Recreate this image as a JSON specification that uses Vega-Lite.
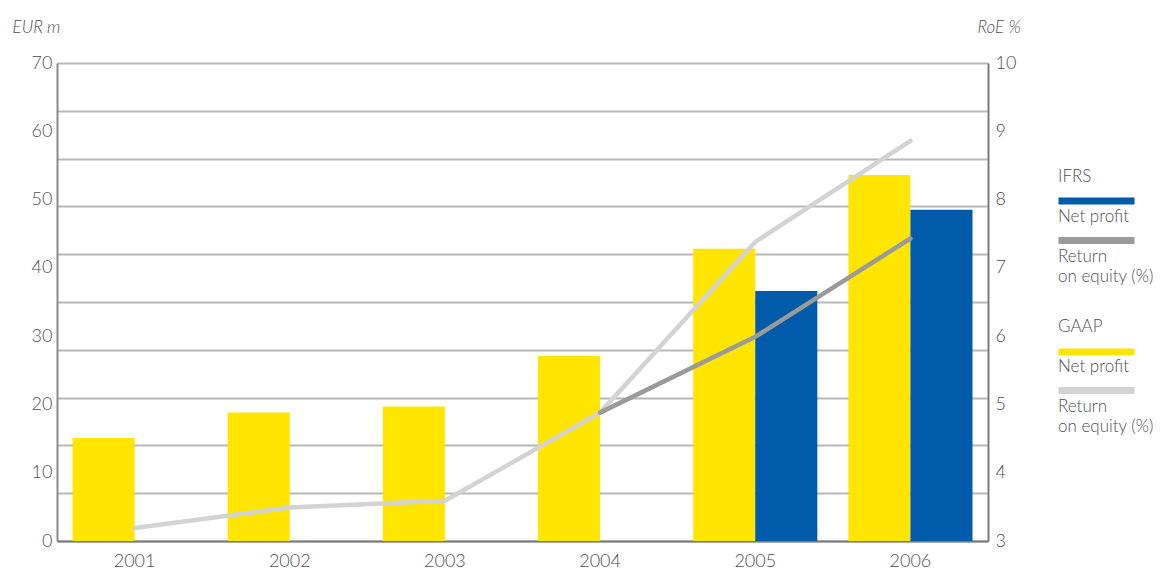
{
  "$schema": "https://vega.github.io/schema/vega-lite/v6.json",
  "width": 931,
  "height": 478,
  "autosize": {"type": "none"},
  "padding": {"left": 57, "top": 63, "right": 172, "bottom": 28},
  "config": {
    "view": {"stroke": null},
    "font": "Lato",
    "axis": {"labelFont": "Lato", "labelFontWeight": 300, "labelColor": "#505050", "labelFontSize": 18, "titleFont": "Lato", "titleFontWeight": 300, "titleColor": "#505050"}
  },
  "datasets": {
    "profit": [
      {"year": "2001", "series": "GAAP Net profit", "value": 15.1},
      {"year": "2002", "series": "GAAP Net profit", "value": 18.8},
      {"year": "2003", "series": "GAAP Net profit", "value": 19.7},
      {"year": "2004", "series": "GAAP Net profit", "value": 27.1},
      {"year": "2005", "series": "GAAP Net profit", "value": 42.8},
      {"year": "2005", "series": "IFRS Net profit", "value": 36.6},
      {"year": "2006", "series": "GAAP Net profit", "value": 53.6},
      {"year": "2006", "series": "IFRS Net profit", "value": 48.5}
    ],
    "roe": [
      {"year": "2001", "series": "GAAP RoE", "value": 3.19},
      {"year": "2002", "series": "GAAP RoE", "value": 3.49},
      {"year": "2003", "series": "GAAP RoE", "value": 3.59},
      {"year": "2004", "series": "GAAP RoE", "value": 4.88},
      {"year": "2005", "series": "GAAP RoE", "value": 7.38},
      {"year": "2006", "series": "GAAP RoE", "value": 8.86},
      {"year": "2004", "series": "IFRS RoE", "value": 4.88},
      {"year": "2005", "series": "IFRS RoE", "value": 5.99},
      {"year": "2006", "series": "IFRS RoE", "value": 7.43}
    ]
  },
  "layer": [
    {
      "data": {"name": "profit"},
      "mark": {"type": "point", "opacity": 0},
      "encoding": {
        "y": {
          "field": "value", "type": "quantitative",
          "scale": {"domain": [0, 70], "nice": false},
          "axis": {"orient": "left", "values": [0, 7, 14, 21, 28, 35, 42, 49, 56, 63, 70], "grid": true, "gridColor": "#b8b8b8", "gridWidth": 2, "labels": false, "ticks": false, "domain": false, "title": null}
        }
      }
    },
    {
      "data": {"name": "profit"},
      "mark": {"type": "bar"},
      "encoding": {
        "x": {
          "field": "year", "type": "ordinal",
          "scale": {"paddingInner": 0.2, "paddingOuter": 0.1},
          "axis": {"orient": "bottom", "title": null, "labelAngle": 0, "ticks": false, "domain": true, "domainColor": "#7a7a7a", "domainWidth": 2, "labelPadding": 11, "grid": false}
        },
        "xOffset": {"field": "series", "type": "nominal", "scale": {"domain": ["GAAP Net profit", "IFRS Net profit"], "paddingInner": 0, "paddingOuter": 0}},
        "y": {
          "field": "value", "type": "quantitative",
          "scale": {"domain": [0, 70], "nice": false},
          "axis": {"orient": "left", "values": [0, 10, 20, 30, 40, 50, 60, 70], "grid": false, "ticks": false, "domain": true, "domainColor": "#8a8a8a", "domainWidth": 2, "labelPadding": 5, "title": "EUR m", "titleFontStyle": "italic", "titleFontSize": 17, "titleAngle": 0, "titleAlign": "left", "titleBaseline": "middle", "titleX": -45, "titleY": -36}
        },
        "color": {
          "field": "series", "type": "nominal",
          "scale": {"domain": ["IFRS Net profit", "IFRS RoE", "GAAP Net profit", "GAAP RoE"], "range": ["#005BAA", "#9a9a9a", "#FFE500", "#D3D3D3"]},
          "legend": {
            "orient": "none", "legendX": 984, "legendY": 105, "title": null,
            "symbolSize": 4, "labelOffset": 0, "symbolOffset": 0, "rowPadding": 12,
            "labelFont": "Lato", "labelFontWeight": 300, "labelFontSize": 17, "labelColor": "#505050", "labelLimit": 200,
            "labelExpr": "datum.value == 'IFRS Net profit' ? ['IFRS', '\u200b', 'Net profit'] : datum.value == 'GAAP Net profit' ? ['\u200b', 'GAAP', '\u200b', 'Net profit'] : ['Return', 'on equity (%)']",
            "encode": {
              "labels": {"update": {"lineHeight": {"value": 20}}},
              "symbols": {"update": {
                "shape": {"signal": "datum.value == 'IFRS Net profit' ? 'M9,21H85V28H9Z' : datum.value == 'GAAP Net profit' ? 'M9,42H85V49H9Z' : 'M9,-19.5H85V-12.5H9Z'"},
                "fill": {"scale": "color", "field": "value"},
                "stroke": {"value": "transparent"},
                "strokeWidth": {"value": 0},
                "opacity": {"value": 1}
              }}
            }
          }
        }
      }
    },
    {
      "data": {"name": "roe"},
      "mark": {"type": "line", "strokeWidth": 4.5, "strokeCap": "round", "strokeJoin": "round"},
      "encoding": {
        "x": {"field": "year", "type": "ordinal"},
        "y": {
          "field": "value", "type": "quantitative",
          "scale": {"domain": [3, 10], "nice": false, "zero": false},
          "axis": {"orient": "right", "values": [3, 4, 5, 6, 7, 8, 9, 10], "grid": false, "ticks": false, "domain": true, "domainColor": "#7a7a7a", "domainWidth": 2, "labelPadding": 7, "title": "RoE %", "titleFontStyle": "italic", "titleFontSize": 17, "titleAngle": 0, "titleAlign": "left", "titleBaseline": "middle", "titleX": -11, "titleY": -36}
        },
        "color": {"field": "series", "type": "nominal"}
      }
    }
  ],
  "resolve": {"scale": {"y": "independent"}, "axis": {"y": "independent"}}
}
